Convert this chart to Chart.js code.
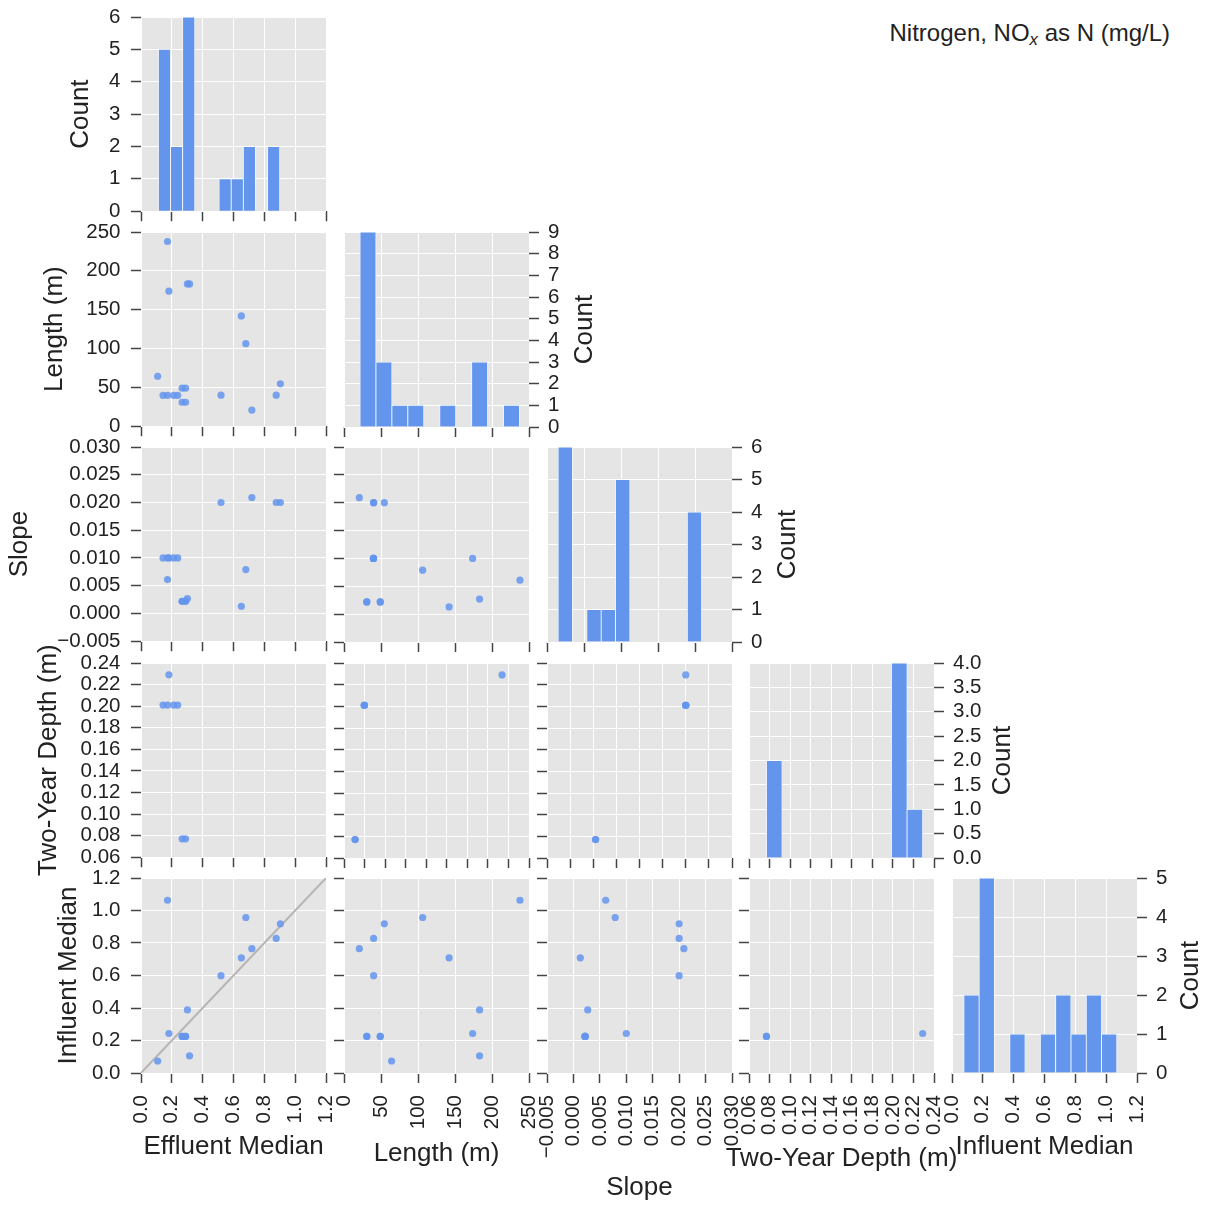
<!DOCTYPE html>
<html>
<head>
<meta charset="utf-8">
<script src="https://cdn.jsdelivr.net/npm/chart.js@4.4.1/dist/chart.umd.min.js"></script>
<style>
  html, body { margin: 0; padding: 0; background: #fff; width: 1208px; height: 1207px; overflow: hidden; }
  #fig { position: relative; width: 1208px; height: 1207px; }
  #fig canvas { position: absolute; }
  #title { position: absolute; right: 38px; top: 19px; font: 24px "Liberation Sans", Arial, sans-serif; line-height: 28px; color: #222; white-space: nowrap; }
  #title sub { font-size: 70%; font-style: italic; vertical-align: -0.25em; line-height: 0; }
</style>
</head>
<body>
<div id="fig">
  <div id="title">Nitrogen, NO<sub>x</sub> as N (mg/L)</div>
</div>
<script>
// one value per site, null = not reported
const variableNames = ['Effluent Median', 'Length (m)', 'Slope', 'Two-Year Depth (m)', 'Influent Median'];
const effluentMedian = [0.172, 0.181, 0.301, 0.315, 0.651, 0.680, 0.108, 0.904, 0.267, 0.289,
                        0.143, 0.172, 0.212, 0.238, 0.519, 0.877, 0.267, 0.289, 0.719];
const lengthM        = [237.8, 173.8, 183.2, 183.2, 142, 106.3, 64.3, 54.5, 49, 49,
                        39.8, 39.8, 39.8, 39.8, 40, 40, 30.8, 30.8, 20.7];
const slope          = [0.0061, 0.0100, 0.0027, null, 0.0013, 0.0079, null, 0.0200, 0.0022, 0.0022,
                        0.0100, 0.0100, 0.0100, 0.0100, 0.0200, 0.0200, 0.0022, 0.0022, 0.0209];
const twoYearDepth   = [null, 0.229, null, null, null, null, null, null, null, null,
                        0.201, 0.201, 0.201, 0.201, null, null, 0.077, 0.077, null];
const influentMedian = [1.063, 0.243, 0.388, 0.106, 0.709, 0.957, 0.074, 0.918, 0.225, 0.225,
                        null, null, null, null, 0.599, 0.828, 0.225, 0.225, 0.765];

// tick values
const effluentTicks = [0, 0.2, 0.4, 0.6, 0.8, 1.0, 1.2];
const lengthTicks = [0, 50, 100, 150, 200, 250];
const slopeTicks = [-0.005, 0, 0.005, 0.010, 0.015, 0.020, 0.025, 0.030];
const depthTicks = [0.06, 0.08, 0.10, 0.12, 0.14, 0.16, 0.18, 0.20, 0.22, 0.24];
const influentTicks = [0, 0.2, 0.4, 0.6, 0.8, 1.0, 1.2];
// a few panels got their own x range
const lengthTicksDepthRow = [20, 40, 60, 80, 100, 120, 140, 160, 180, 200];
const slopeTicksDepthRow = [-0.002, 0, 0.002, 0.004, 0.006, 0.008, 0.010, 0.012, 0.014];
const slopeTicksHist = [0, 0.005, 0.010, 0.015, 0.020, 0.025];
const countTicks = [
  [0, 1, 2, 3, 4, 5, 6],
  [0, 1, 2, 3, 4, 5, 6, 7, 8, 9],
  [0, 1, 2, 3, 4, 5, 6],
  [0, 0.5, 1, 1.5, 2, 2.5, 3, 3.5, 4],
  [0, 1, 2, 3, 4, 5]
];

// histograms on the diagonal
const effluentBinEdges = [0.113, 0.192, 0.270, 0.349, 0.428, 0.506, 0.585, 0.664, 0.742, 0.821, 0.900];
const effluentCounts = [5, 2, 6, 0, 0, 1, 1, 2, 0, 2];
const lengthBinEdges = [21.6, 43.2, 64.7, 86.3, 107.8, 129.4, 151.0, 172.5, 194.1, 215.6, 237.2];
const lengthCounts = [9, 3, 1, 1, 0, 1, 0, 3, 0, 1];
const slopeBinEdges = [0.0015, 0.00344, 0.00538, 0.00732, 0.00926, 0.0112, 0.01314, 0.01508, 0.01702, 0.01896, 0.0209];
const slopeCounts = [6, 0, 1, 1, 5, 0, 0, 0, 0, 4];
const depthBinEdges = [0.0770, 0.0922, 0.1074, 0.1226, 0.1378, 0.1530, 0.1682, 0.1834, 0.1986, 0.2138, 0.2290];
const depthCounts = [2, 0, 0, 0, 0, 0, 0, 0, 4, 1];
const influentBinEdges = [0.077, 0.176, 0.275, 0.375, 0.474, 0.573, 0.672, 0.772, 0.871, 0.970, 1.069];
const influentCounts = [2, 5, 0, 1, 0, 1, 2, 1, 2, 1];

const variables = [
  { name: variableNames[0], values: effluentMedian, ticks: effluentTicks, decimals: 1 },
  { name: variableNames[1], values: lengthM, ticks: lengthTicks, decimals: 0 },
  { name: variableNames[2], values: slope, ticks: slopeTicks, decimals: 3 },
  { name: variableNames[3], values: twoYearDepth, ticks: depthTicks, decimals: 2 },
  { name: variableNames[4], values: influentMedian, ticks: influentTicks, decimals: 1 }
];
const histograms = [
  { edges: effluentBinEdges, counts: effluentCounts },
  { edges: lengthBinEdges, counts: lengthCounts },
  { edges: slopeBinEdges, counts: slopeCounts },
  { edges: depthBinEdges, counts: depthCounts },
  { edges: influentBinEdges, counts: influentCounts }
];
const xTickOverride = { '3,1': lengthTicksDepthRow, '3,2': slopeTicksDepthRow, '2,2': slopeTicksHist };

// layout of the panel grid (px)
const colLeft = [141, 344, 547, 749, 952];
const rowTop = [17, 232, 447, 663, 878];
const PW = 185, PH = 195;
const yTitleCenter = [80.5, 54.4, 19.9, 49.1, 68.3];
const xTitleOffset = [74, 80.4, 114.4, 85.4, 74];
const countTitleOffset = [0, 56, 55.5, 69, 54];

const fontFamily = '"Liberation Sans", Arial, Helvetica, sans-serif';
const textColor = '#222222';
const tickColor = '#444444';
const panelColor = '#e5e5e5';
const pointColor = 'rgba(100, 149, 237, 0.85)';
const barColor = '#6495ed';

Chart.defaults.font.family = fontFamily;
Chart.defaults.font.size = 20;
Chart.defaults.color = textColor;

const fig = document.getElementById('fig');

function fmt(v, dec) {
  if (Math.abs(v) < 1e-12) v = 0;
  return v.toFixed(dec).replace('-', '\u2212');
}

function pairs(xs, ys) {
  const pts = [];
  xs.forEach((x, i) => {
    const y = ys[i];
    if (x != null && y != null) pts.push({ x, y });
  });
  return pts;
}

function linearAxis(ticks, dec, opts) {
  const vertical = opts.position === 'left' || opts.position === 'right';
  return {
    type: 'linear',
    position: opts.position,
    min: ticks[0],
    max: ticks[ticks.length - 1],
    offset: false,
    border: { display: false },
    grid: { color: '#ffffff', lineWidth: 1, offset: false, drawTicks: true, tickLength: 10, tickColor: tickColor, tickWidth: 1.5 },
    afterBuildTicks: axis => { axis.ticks = ticks.map(v => ({ value: v })); },
    afterFit: axis => { if (vertical) axis.width = opts.size; else axis.height = opts.size; },
    ticks: {
      display: opts.showLabels,
      autoSkip: false,
      padding: opts.position === 'left' ? 10.5 : (vertical ? 9 : 12),
      maxRotation: vertical ? 0 : 90,
      minRotation: vertical ? 0 : 90,
      color: textColor,
      font: { size: 20.5 },
      callback: v => fmt(v, dec)
    },
    title: opts.title
      ? { display: true, text: opts.title, color: textColor, font: { size: 26 }, padding: { top: 4, bottom: 4 } }
      : { display: false }
  };
}

// grey panel background
const panelBg = {
  id: 'panelBg',
  beforeDraw(chart) {
    const { ctx, chartArea: a } = chart;
    ctx.save();
    ctx.fillStyle = panelColor;
    ctx.fillRect(a.left, a.top, a.right - a.left, a.bottom - a.top);
    ctx.restore();
  }
};

// bottom titles (wider than the panel) and right-hand "Count" titles
const sideTitles = {
  id: 'sideTitles',
  afterDraw(chart, args, opts) {
    const { ctx, chartArea: a } = chart;
    (opts.items || []).forEach(t => {
      ctx.save();
      ctx.font = '26px ' + fontFamily;
      ctx.fillStyle = textColor;
      ctx.textAlign = 'center';
      ctx.textBaseline = 'middle';
      if (t.where === 'right') {
        ctx.translate(a.right + t.offset, (a.top + a.bottom) / 2);
        ctx.rotate(-Math.PI / 2);
      } else {
        ctx.translate((a.left + a.right) / 2, a.bottom + t.offset);
      }
      ctx.fillText(t.text, 0, 0);
      ctx.restore();
    });
  }
};

function buildPanel(r, c) {
  const diag = r === c;
  const firstCol = c === 0;
  const lastRow = r === 4;
  const rightAxis = diag && r > 0;
  const ML = firstCol ? Math.round(colLeft[0] - yTitleCenter[r] + 19.6) : (diag ? 20 : 30);
  const MR = rightAxis ? 95 : 45;
  const MT = 30;
  const MB = lastRow ? 1207 - rowTop[4] - PH : 22;

  const canvas = document.createElement('canvas');
  canvas.width = ML + PW + MR;
  canvas.height = MT + PH + MB;
  canvas.style.left = (colLeft[c] - ML) + 'px';
  canvas.style.top = (rowTop[r] - MT) + 'px';
  fig.appendChild(canvas);

  const xv = variables[c];
  const xTicks = xTickOverride[r + ',' + c] || xv.ticks;
  const scales = {
    x: linearAxis(xTicks, xv.decimals, { position: 'bottom', showLabels: lastRow, size: MB })
  };

  let type, datasets;
  if (diag) {
    const h = histograms[r];
    const centers = h.edges.slice(0, -1).map((e, i) => (e + h.edges[i + 1]) / 2);
    type = 'bar';
    datasets = [{
      data: centers.map((x, i) => ({ x, y: h.counts[i] || null })),
      backgroundColor: barColor,
      borderColor: '#ffffff',
      borderWidth: 0.75,
      barPercentage: 1,
      categoryPercentage: 1
    }];
    scales.y = linearAxis(countTicks[r], r === 3 ? 1 : 0, {
      position: rightAxis ? 'right' : 'left',
      showLabels: true,
      size: rightAxis ? MR : ML,
      title: rightAxis ? null : 'Count'
    });
  } else {
    const yv = variables[r];
    type = 'scatter';
    datasets = [{
      data: pairs(xv.values, yv.values),
      pointRadius: 3.6,
      pointBackgroundColor: pointColor,
      pointBorderWidth: 0,
      order: 1
    }];
    if (r === 4 && c === 0) {
      const lo = effluentTicks[0], hi = effluentTicks[effluentTicks.length - 1];
      datasets.push({
        data: [{ x: lo, y: lo }, { x: hi, y: hi }],
        showLine: true,
        borderColor: '#b5b5b5',
        borderWidth: 2,
        pointRadius: 0,
        order: 2
      });
    }
    scales.y = linearAxis(yv.ticks, yv.decimals, {
      position: 'left', showLabels: firstCol, size: ML, title: firstCol ? yv.name : null
    });
  }

  const items = [];
  if (lastRow) items.push({ text: xv.name, where: 'bottom', offset: xTitleOffset[c] });
  if (rightAxis) items.push({ text: 'Count', where: 'right', offset: countTitleOffset[r] });

  new Chart(canvas, {
    type,
    data: { datasets },
    options: {
      responsive: false,
      animation: false,
      events: [],
      devicePixelRatio: 1,
      layout: { padding: { top: MT, bottom: 0, left: rightAxis ? ML : 0, right: rightAxis ? 0 : MR } },
      scales,
      plugins: {
        legend: { display: false },
        tooltip: { enabled: false },
        sideTitles: { items }
      }
    },
    plugins: [panelBg, sideTitles]
  });
}

for (let r = 0; r < 5; r++) {
  for (let c = 0; c <= r; c++) buildPanel(r, c);
}
</script>
</body>
</html>
